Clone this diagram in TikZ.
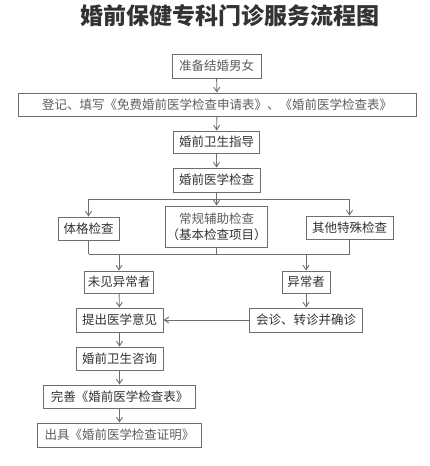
\documentclass[tikz,border=0pt]{standalone}
\usepackage{fontspec}
\setmainfont{Noto Sans CJK SC}
\usetikzlibrary{arrows.meta}
\definecolor{linec}{HTML}{6E6E6E}
\definecolor{darkt}{HTML}{333333}
\definecolor{lightt}{HTML}{5E5E5E}
\begin{document}
\begin{tikzpicture}[x=1pt,y=-1pt,
  box/.style={draw=linec,line width=1pt,inner sep=0pt,align=center,text=darkt,font=\fontsize{12.5pt}{16pt}\selectfont},
  lbox/.style={box,text=lightt},
  conn/.style={draw=linec,line width=0.9pt},
  arr/.style={conn,-{Straight Barb[length=4.5pt,width=6pt]}}]
\useasboundingbox (0,0) rectangle (430,466);
\fill[white] (0,0) rectangle (430,466);
\node[text=darkt,font=\fontsize{23pt}{26pt}\selectfont\bfseries] (title) at (230,16) {婚前保健专科门诊服务流程图};
% main column
\node[lbox,minimum width=89pt,minimum height=24pt] (b1) at (216.5,66) {准备结婚男女};
\node[lbox,minimum width=398pt,minimum height=23pt] (b2) at (217,104.5) {登记、填写《免费婚前医学检查申请表》、《婚前医学检查表》};
\node[box,minimum width=86pt,minimum height=22pt] (b3) at (216.5,142) {婚前卫生指导};
\node[box,minimum width=87pt,minimum height=24pt] (b4) at (216.5,180) {婚前医学检查};
% exams
\node[box,minimum width=61pt,minimum height=23pt] (b5) at (88.5,228.5) {体格检查};
\node[box,minimum width=102pt,minimum height=41pt] (b6) at (216.5,226.5) {\textcolor{lightt}{常规辅助检查}\\（基本检查项目）};
\node[box,minimum width=87pt,minimum height=23pt] (b7) at (349.5,227.5) {其他特殊检查};
% results
\node[box,minimum width=69pt,minimum height=22pt] (b8) at (119,282) {未见异常者};
\node[box,minimum width=48pt,minimum height=22pt] (b9) at (306,282) {异常者};
\node[box,minimum width=87pt,minimum height=24pt] (b10) at (119.5,320) {提出医学意见};
\node[box,minimum width=113pt,minimum height=24pt] (b11) at (306,320) {会诊、转诊并确诊};
\node[box,minimum width=87pt,minimum height=23pt] (b12) at (119.5,358.5) {婚前卫生咨询};
\node[box,minimum width=152pt,minimum height=23pt] (b13) at (119.5,396.5) {完善《婚前医学检查表》};
\node[lbox,minimum width=164pt,minimum height=24pt] (b14) at (119.5,435) {出具《婚前医学检查证明》};
% junctions
\coordinate (s1) at (216.5,199);
\coordinate (s1l) at (88.5,199);
\coordinate (s1r) at (349.5,199);
\coordinate (m1) at (216.5,254);
\coordinate (m1l) at (88.5,254);
\coordinate (m1r) at (349.5,254);
\coordinate (m1a) at (119,254);
\coordinate (m1b) at (306,254);
% connectors
\draw[arr] (b1) -- (b2);
\draw[arr] (b2) -- (b3);
\draw[arr] (b3) -- (b4);
\draw[conn] (b4.south) -- (s1);
\draw[conn] (s1l) -- (s1r);
\draw[arr] (s1l) -- (b5.north);
\draw[arr] (s1) -- (b6.north);
\draw[arr] (s1r) -- (b7.north);
\draw[conn] (b5.south) -- (m1l);
\draw[conn] (b6.south) -- (m1);
\draw[conn] (b7.south) -- (m1r);
\draw[conn] (m1l) -- (m1r);
\draw[arr] (m1a) -- (b8.north);
\draw[arr] (m1b) -- (b9.north);
\draw[arr] (b8) -- (b10);
\draw[arr] (b9) -- (b11);
\draw[arr] (b11) -- (b10);
\draw[arr] (b10) -- (b12);
\draw[arr] (b12) -- (b13);
\draw[arr] (b13) -- (b14);
\end{tikzpicture}
\end{document}
